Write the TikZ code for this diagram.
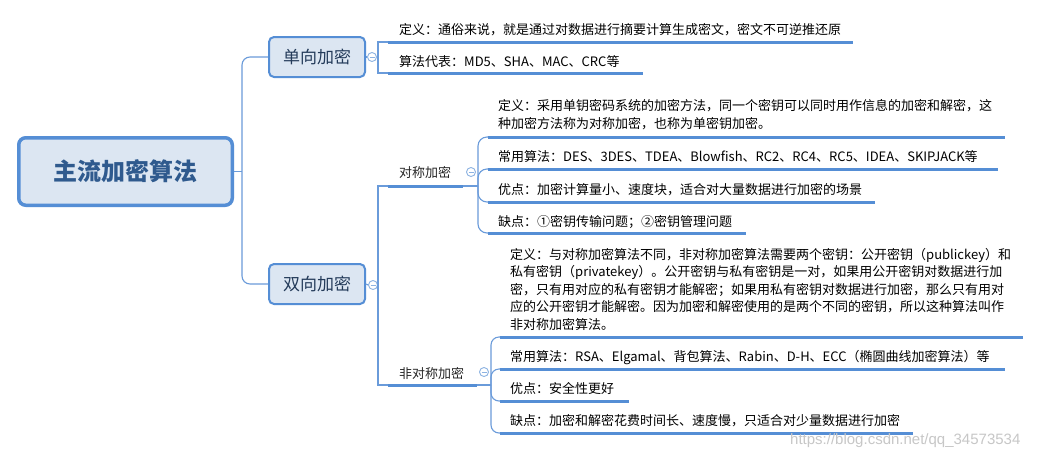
\documentclass[tikz,border=0pt]{standalone}
\usepackage{fontspec}
\setmainfont{Noto Sans CJK SC}
\newfontfamily\wmfont{Liberation Sans}
\definecolor{lineblue}{HTML}{558ED5}
\definecolor{connblue}{HTML}{6A9BDA}
\definecolor{boxfill}{HTML}{DCE6F2}
\definecolor{roottext}{HTML}{2F5A8E}
\definecolor{btext}{HTML}{243B5A}
\definecolor{circblue}{HTML}{8DB3E2}
\newcommand\mylines[1]{\begin{tabular}[t]{@{}l@{}}#1\end{tabular}}
\begin{document}
\begin{tikzpicture}[x=1pt,y=-1pt,
 rootbox/.style={draw=lineblue, line width=3.5pt, fill=boxfill, rounded corners=7pt, minimum width=213.5pt, minimum height=67.5pt, inner sep=0pt, font=\fontsize{24}{28}\selectfont\bfseries, text=roottext},
 branchbox/.style={draw=lineblue, line width=2pt, fill=boxfill, rounded corners=5pt, minimum width=96pt, minimum height=40pt, inner sep=0pt, font=\fontsize{17}{20}\selectfont, text=btext},
 leaf/.style={anchor=base west, inner sep=0pt, font=\fontsize{13}{18}\selectfont, text=black},
 midlabel/.style={anchor=base west, inner sep=0pt, font=\fontsize{13}{18}\selectfont, text=black!85},
 uline/.style={draw=lineblue, line width=3pt},
 conn/.style={draw=connblue, line width=1.1pt},
 toggle/.style={circle, draw=circblue, line width=0.9pt, fill=white, minimum size=9pt, inner sep=0pt,
   path picture={\draw[circblue, line width=0.8pt] ([xshift=-2.5pt]path picture bounding box.center) -- ([xshift=2.5pt]path picture bounding box.center);}},
]
\useasboundingbox (0,0) rectangle (1042,456);
\fill[white] (0,0) rectangle (1042,456);

% ---- main nodes
\node[rootbox] (root) at (125.5,171.5) {主流加密算法};
\node[branchbox] (b1) at (317,57) {单向加密};
\node[branchbox] (b2) at (317,284) {双向加密};

% ---- root connectors
\coordinate (bus) at (242,171.5);
\draw[conn] (root.east) -- (bus);
\draw[conn, rounded corners=8pt] (b1.west) -- (b1.west -| bus) -- (b2.west -| bus) -- (b2.west);

% ---- 单向加密 children
\node[toggle] (t1) at (372,57) {};
\coordinate (j1) at (378,57);
\draw[conn] (b1.east) -- (t1.west);
\draw[conn] (t1.east) -- (j1);
\coordinate (u1s) at (388,42); \coordinate (u1e) at (853,42);
\coordinate (u2s) at (388,73); \coordinate (u2e) at (643,73);
\draw[conn] (u1s) -- (u1s -| j1) -- (u2s -| j1) -- (u2s);
\draw[uline] (u1s) -- (u1e);
\draw[uline] (u2s) -- (u2e);
\node[leaf] (l1) at (399,34) {定义：通俗来说，就是通过对数据进行摘要计算生成密文，密文不可逆推还原};
\node[leaf] (l2) at (399,66) {算法代表：MD5、SHA、MAC、CRC等};

% ---- 双向加密 children
\node[toggle] (t2) at (373,285) {};
\coordinate (j2) at (378,285);
\draw[conn] (b2.east) -- (t2.west);
\draw[conn] (t2.east) -- (j2);
\coordinate (s1s) at (388,186); \coordinate (s1e) at (463,186);
\coordinate (s2s) at (388,385); \coordinate (s2e) at (477,385);
\draw[conn] (s1s) -- (s1s -| j2) -- (s2s -| j2) -- (s2s);
\draw[uline] (s1s) -- (s1e);
\draw[uline] (s2s) -- (s2e);
\node[midlabel] (sym) at (399,177) {对称加密};
\node[midlabel] (asym) at (399,378) {非对称加密};
\node[toggle] (t3) at (471,172) {};
\node[toggle] (t4) at (484,372) {};

% ---- 对称加密 children
\coordinate (js) at (478,186);
\draw[conn] (s1e) -- (js);
\coordinate (c1s) at (488,137); \coordinate (c1e) at (1005,137);
\coordinate (c2s) at (488,169); \coordinate (c2e) at (998,169);
\coordinate (c3s) at (488,202); \coordinate (c3e) at (875,202);
\coordinate (c4s) at (488,233); \coordinate (c4e) at (746,233);
\foreach \c in {c1s,c2s,c3s,c4s} {\draw[conn, rounded corners=9pt] (js) |- (\c);}
\draw[uline] (c1s) -- (c1e);
\draw[uline] (c2s) -- (c2e);
\draw[uline] (c3s) -- (c3e);
\draw[uline] (c4s) -- (c4e);
\node[leaf] (sd) at (498,110) {\mylines{定义：采用单钥密码系统的加密方法，同一个密钥可以同时用作信息的加密和解密，这\\种加密方法称为对称加密，也称为单密钥加密。}};
\node[leaf] (sa) at (498,161) {常用算法：DES、3DES、TDEA、Blowfish、RC2、RC4、RC5、IDEA、SKIPJACK等};
\node[leaf] (sp) at (498,194) {优点：加密计算量小、速度块，适合对大量数据进行加密的场景};
\node[leaf] (sc) at (498,226) {缺点：①密钥传输问题；②密钥管理问题};

% ---- 非对称加密 children
\coordinate (ja) at (491,385);
\draw[conn] (s2e) -- (ja);
\coordinate (a1s) at (500,337); \coordinate (a1e) at (1023,337);
\coordinate (a2s) at (500,369); \coordinate (a2e) at (1005,369);
\coordinate (a3s) at (500,401); \coordinate (a3e) at (629,401);
\coordinate (a4s) at (500,433); \coordinate (a4e) at (913,433);
\foreach \c in {a1s,a2s,a3s,a4s} {\draw[conn, rounded corners=8pt] (ja) |- (\c);}
\draw[uline] (a1s) -- (a1e);
\draw[uline] (a2s) -- (a2e);
\draw[uline] (a3s) -- (a3e);
\draw[uline] (a4s) -- (a4e);
\node[leaf, font=\fontsize{13}{17.5}\selectfont] (ad) at (510,259) {\mylines{定义：与对称加密算法不同，非对称加密算法需要两个密钥：公开密钥（publickey）和\\私有密钥（privatekey）。公开密钥与私有密钥是一对，如果用公开密钥对数据进行加\\密，只有用对应的私有密钥才能解密；如果用私有密钥对数据进行加密，那么只有用对\\应的公开密钥才能解密。因为加密和解密使用的是两个不同的密钥，所以这种算法叫作\\非对称加密算法。}};
\node[leaf] (aa) at (510,361) {常用算法：RSA、Elgamal、背包算法、Rabin、D-H、ECC（椭圆曲线加密算法）等};
\node[leaf] (ap) at (510,393) {优点：安全性更好};
\node[leaf] (ac) at (510,425) {缺点：加密和解密花费时间长、速度慢，只适合对少量数据进行加密};

% ---- watermark
\node[anchor=base west, inner sep=0pt, font=\wmfont\fontsize{15}{18}\selectfont, text=black!22] (wm) at (790,444) {https://blog.csdn.net/qq\_34573534};
\end{tikzpicture}
\end{document}
